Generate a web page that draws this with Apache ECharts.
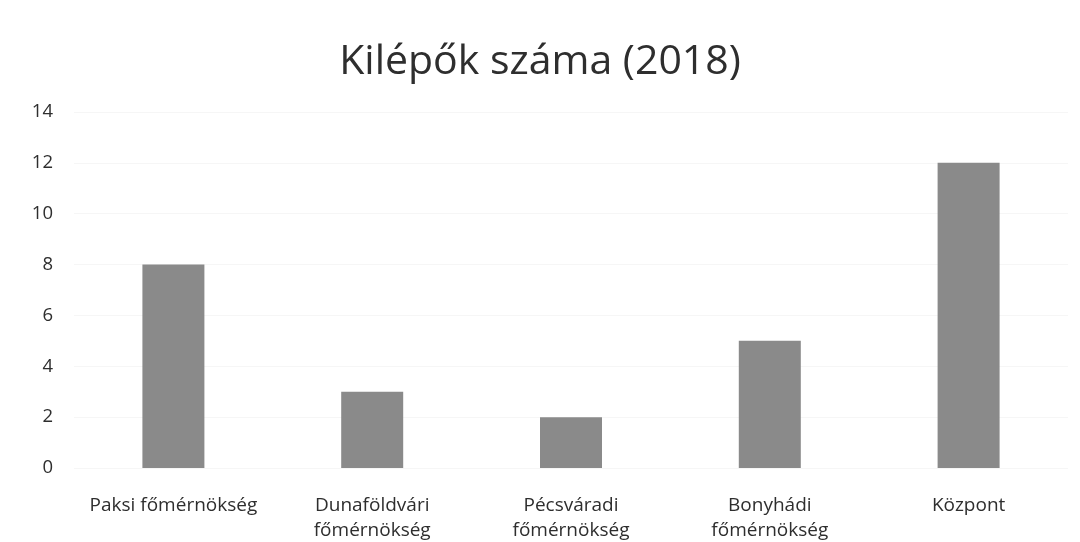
<!DOCTYPE html>
<html>
<head>
<meta charset="utf-8">
<script src="https://cdn.jsdelivr.net/npm/echarts@6/dist/echarts.min.js"></script>
<style>
html, body { margin: 0; padding: 0; background: #fff; }
#chart { width: 1080px; height: 542px; }
</style>
</head>
<body>
<div id="chart"></div>
<script>
const categories = ["Paksi főmérnökség", "Dunaföldvári\nfőmérnökség", "Pécsváradi\nfőmérnökség", "Bonyhádi\nfőmérnökség", "Központ"];
const values = [8, 3, 2, 5, 12];
const yTicks = [0, 2, 4, 6, 8, 10, 12, 14];

const chart = echarts.init(document.getElementById("chart"));
chart.setOption({
    animation: false,
    title: {
        text: "Kilépők száma (2018)",
        left: "center",
        top: 37,
        textStyle: { fontFamily: "Open Sans", fontSize: 41, fontWeight: "normal", color: "#2e2e2e" }
    },
    grid: { left: 74, right: 12, top: 112, bottom: 74, outerBoundsMode: "none" },
    xAxis: {
        type: "category",
        data: categories,
        axisLine: { show: false },
        axisTick: { show: false },
        axisLabel: { fontFamily: "Open Sans", fontSize: 19, color: "#2e2e2e", margin: 25, lineHeight: 25, interval: 0 }
    },
    yAxis: {
        type: "value",
        min: yTicks[0],
        max: yTicks[yTicks.length - 1],
        interval: 2,
        axisLine: { show: false },
        axisTick: { show: false },
        splitLine: { lineStyle: { color: "#f6f6f6" } },
        axisLabel: { fontFamily: "Open Sans", fontSize: 18.5, color: "#2e2e2e", margin: 21 }
    },
    series: [{
        type: "bar",
        data: values,
        barWidth: 62,
        itemStyle: { color: "#8a8a8a" }
    }]
});
</script>
</body>
</html>
